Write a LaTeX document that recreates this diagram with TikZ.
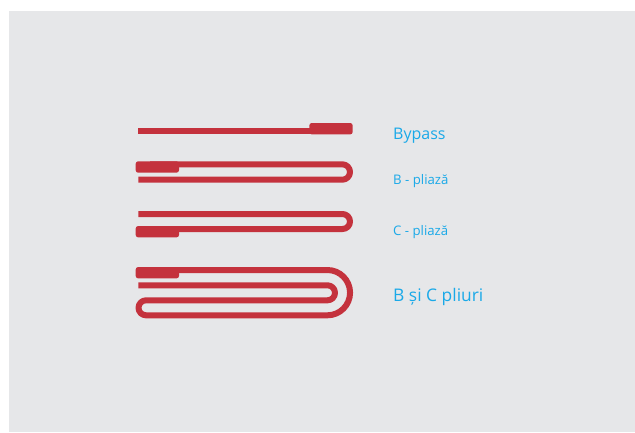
\documentclass[tikz,border=0pt]{standalone}
\usepackage{fontspec}
\setmainfont{Open Sans}
\definecolor{panel}{HTML}{E6E7E9}
\definecolor{strap}{HTML}{C4323D}
\definecolor{lbl}{HTML}{1AA9E8}
\tikzset{
  x=1pt,y=-1pt,
  strapline/.style={draw=strap,line width=6pt,line cap=butt,line join=round},
  straptab/.style={fill=strap,rounded corners=2.5pt},
  lblbig/.style={text=lbl,anchor=base west,inner sep=0pt,font=\fontsize{16}{18}\selectfont},
  lblsmall/.style={text=lbl,anchor=base west,inner sep=0pt,font=\fontsize{13.2}{15}\selectfont},
  lbllarge/.style={text=lbl,anchor=base west,inner sep=0pt,font=\fontsize{17.4}{20}\selectfont}
}
\begin{document}
\begin{tikzpicture}
\useasboundingbox (0,0) rectangle (635,432);
\fill[panel] (9,11) rectangle (635,432);
% Bypass
\draw[strapline] (138.3,131.3) -- (345,131.3);
\fill[straptab] (309.3,123) rectangle (352.7,134.4);
% B
\draw[strapline] (150,164.3) -- (342.3,164.3) arc[start angle=-90,end angle=90,radius=7.7] -- (138.3,179.7);
\fill[straptab] (135.7,161.3) rectangle (179,172.7);
% C
\draw[strapline] (138.3,214) -- (342.5,214) arc[start angle=-90,end angle=90,radius=7.5] -- (150,229);
\fill[straptab] (135.7,226) rectangle (179,237.4);
% B and C
\draw[strapline] (150,270) -- (327.4,270) arc[start angle=-90,end angle=90,radius=22.65] -- (146,315.3)
  arc[start angle=90,end angle=270,radius=7.5] -- (327.5,300.3)
  arc[start angle=90,end angle=-90,radius=7.5] -- (138.3,285.3);
\fill[straptab] (135.7,267) rectangle (179,278.4);
% labels
\node[lblbig] (bypass) at (393,139) {Bypass};
\node[lblsmall] (bp) at (393,184) {B - pliază};
\node[lblsmall] (cp) at (393,235) {C - pliază};
\node[lbllarge] (bc) at (393,301) {B și C pliuri};
\end{tikzpicture}
\end{document}
